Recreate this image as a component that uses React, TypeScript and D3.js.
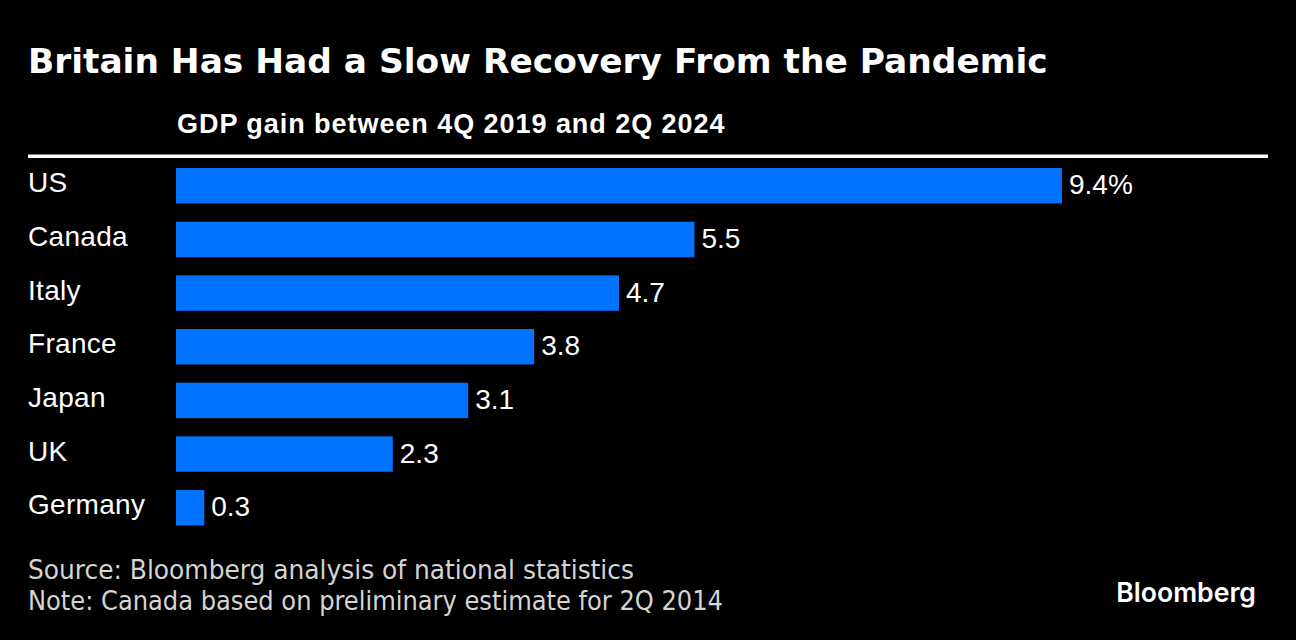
import { useEffect } from 'react'
import * as d3 from 'd3'

const COUNTRIES = ['US', 'Canada', 'Italy', 'France', 'Japan', 'UK', 'Germany']
const GAINS     = [9.4, 5.5, 4.7, 3.8, 3.1, 2.3, 0.3]

const TITLE    = 'Britain Has Had a Slow Recovery From the Pandemic'
const SUBTITLE = 'GDP gain between 4Q 2019 and 2Q 2024'
const NOTES    = [
  'Source: Bloomberg analysis of national statistics',
  'Note: Canada based on preliminary estimate for 2Q 2014',
]
const NOTE_WIDTHS = [606, 695]

const W = 1296
const H = 640
const BLUE = '#0074ff'
const SANS = '"Liberation Sans", Arial, Helvetica, sans-serif'

export default function App() {
  useEffect(() => {
    document.body.style.margin = '0'
    document.body.style.background = '#000'
  }, [])

  const x = d3.scaleLinear().domain([0, d3.max(GAINS)!]).range([176, 1062])
  const y = d3.scaleBand<string>()
    .domain(COUNTRIES)
    .range([158.9, 534.6])
    .paddingInner(0.34)
    .paddingOuter(0.17)

  const bw = y.bandwidth()

  return (
    <svg width={W} height={H} style={{ display: 'block', background: '#000' }}>
      <rect x={0} y={0} width={W} height={H} fill="#000" />

      {/* Title */}
      <text x={28} y={73} fill="#fff" fontFamily='"DejaVu Sans", sans-serif'
        fontWeight={700} fontSize={34.4}>{TITLE}</text>

      {/* Subtitle */}
      <text x={177} y={133} fill="#fff" fontFamily={SANS}
        fontWeight={700} fontSize={27} letterSpacing={0.95}>{SUBTITLE}</text>

      <rect x={28} y={154.5} width={1240} height={3.5} fill="#fff" />

      {/* Bars */}
      {COUNTRIES.map((c, i) => {
        const yc = y(c)! + bw / 2
        return (
          <g key={c}>
            <text x={28} y={yc + 6.5} fill="#fff" fontFamily={SANS} fontSize={28} letterSpacing={0.3}>{c}</text>
            <rect x={x(0)} y={y(c)!} width={x(GAINS[i]) - x(0)} height={bw} fill={BLUE} />
            <text x={x(GAINS[i]) + 7} y={yc + 8.5} fill="#fff" fontFamily={SANS} fontSize={28}>
              {i === 0 ? `${GAINS[i]}%` : `${GAINS[i]}`}
            </text>
          </g>
        )
      })}

      {/* Footer */}
      {NOTES.map((n, i) => (
        <text key={i} x={28} y={579 + i * 31} fill="#d4d4d4"
          fontFamily='"DejaVu Sans Condensed", "DejaVu Sans", sans-serif' fontSize={27.3}
          textLength={NOTE_WIDTHS[i]} lengthAdjust="spacingAndGlyphs"
          style={{ fontStretch: 'condensed' }}>{n}</text>
      ))}

      <text x={1256} y={602} textAnchor="end" fill="#fff"
        fontFamily='Inter, sans-serif' fontWeight={600} fontSize={26.6} letterSpacing={0}>Bloomberg</text>
    </svg>
  )
}
